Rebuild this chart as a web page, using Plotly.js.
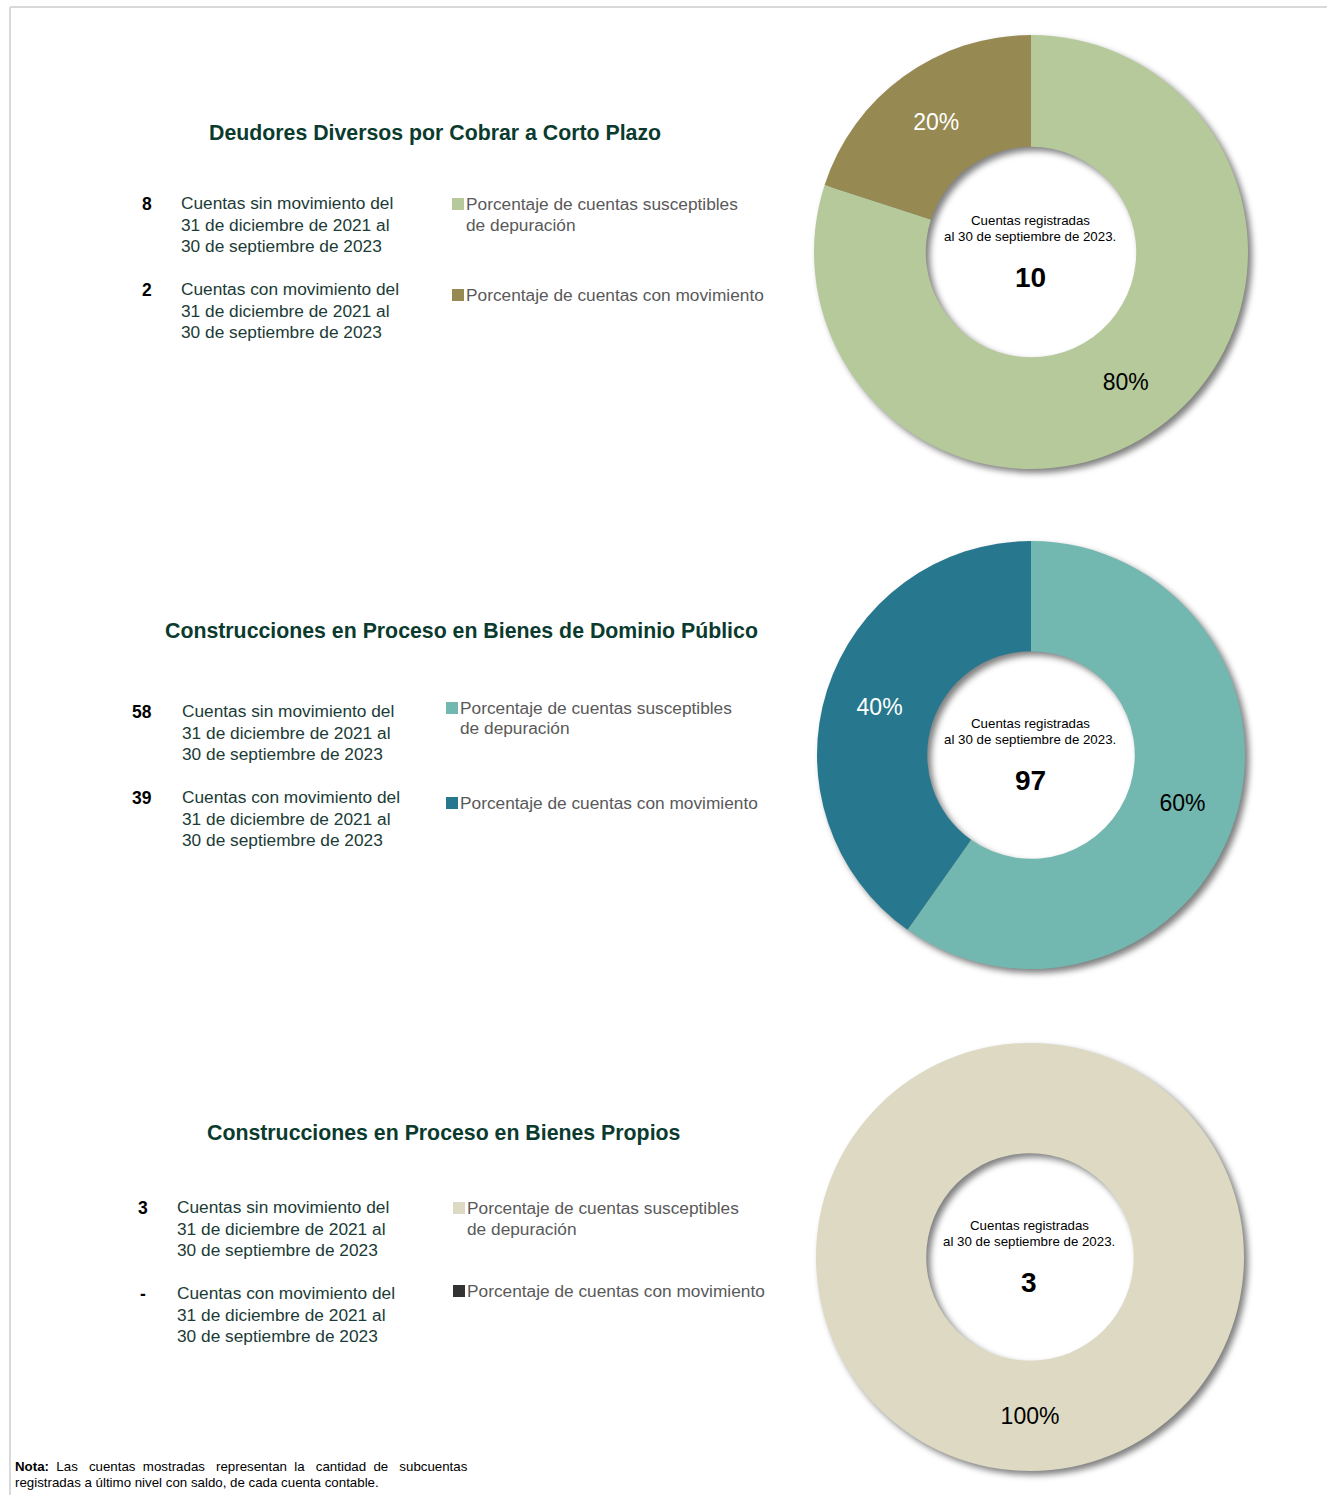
<!DOCTYPE html>
<html>
<head>
<meta charset="utf-8">
<script src="https://cdn.plot.ly/plotly-3.0.1.min.js"></script>
<style>
  html, body { margin: 0; padding: 0; background: #ffffff; }
  #chart { width: 1327px; height: 1495px; }
</style>
</head>
<body>
<div id="chart"></div>
<script>
// ---------------- DATA ----------------
const chartTitles = [
  'Deudores Diversos por Cobrar a Corto Plazo',
  'Construcciones en Proceso en Bienes de Dominio Público',
  'Construcciones en Proceso en Bienes Propios'
];
const sinMovimiento = [8, 58, 3];
const conMovimiento = [2, 39, 0];
const sinMovimientoLabel = ['8', '58', '3'];
const conMovimientoLabel = ['2', '39', '-'];
const sliceLabels = ['Porcentaje de cuentas susceptibles de depuración', 'Porcentaje de cuentas con movimiento'];
const legendSinLines = ['Porcentaje de cuentas susceptibles', 'de depuración'];
const legendConLines = ['Porcentaje de cuentas con movimiento'];
const descSinLines = ['Cuentas sin movimiento del', '31 de diciembre de 2021 al', '30 de septiembre de 2023'];
const descConLines = ['Cuentas con movimiento del', '31 de diciembre de 2021 al', '30 de septiembre de 2023'];
const centerLines = ['Cuentas registradas', 'al 30 de septiembre de 2023.'];
const noteLines = [
  '<b>Nota:</b>\u00A0 Las\u00A0\u00A0 cuentas\u00A0 mostradas\u00A0\u00A0 representan\u00A0 la\u00A0\u00A0 cantidad\u00A0 de\u00A0\u00A0 subcuentas',
  'registradas a último nivel con saldo, de cada cuenta contable.'
];
const colorSusceptibles = ['#B5C99A', '#72B7B0', '#DDD9C3'];
const colorMovimiento = ['#968A52', '#27788E', '#333333'];
const textColorSusceptibles = ['#000000', '#000000', '#000000'];
const textColorMovimiento = ['#FFFFFF', '#FFFFFF', '#FFFFFF'];

// ---------------- LAYOUT CONFIG (positions in px) ----------------
const W = 1327, H = 1495;
const X = v => v / W;
const Y = v => 1 - v / H;
const FONT = 'Liberation Sans, Arial, sans-serif';
const panels = [
  {cx: 1031, cy: 252, r: 217, tx: 435, ty: 133, numX: 147, textX: 179, rowY: [203, 289], sqX: 452, legX: 464, legY: [204, 295]},
  {cx: 1031, cy: 755, r: 214, tx: 461, ty: 631, numX: 142, textX: 180, rowY: [711, 797], sqX: 446, legX: 458, legY: [708, 803]},
  {cx: 1030, cy: 1257, r: 214, tx: 443, ty: 1133, numX: 143, textX: 175, rowY: [1207, 1293], sqX: 453, legX: 465, legY: [1208, 1291]}
];
const centerOffsets = [-32, -16, 25];
const HOLE = 0.485;

const shadowTraces = [];
const pieTraces = [];
const annotations = [];
const shapes = [];

function ann(text, x, y, opts) {
  annotations.push(Object.assign({
    text: text, x: X(x), y: Y(y), xref: 'paper', yref: 'paper',
    xanchor: 'left', yanchor: 'middle', showarrow: false,
    font: {family: FONT, size: 17.3, color: '#1B3B36'}
  }, opts || {}));
}

chartTitles.forEach((title, i) => {
  const p = panels[i];
  const total = sinMovimiento[i] + conMovimiento[i];
  const domain = {x: [X(p.cx - p.r), X(p.cx + p.r)], y: [Y(p.cy + p.r), Y(p.cy - p.r)]};

  shadowTraces.push({
    type: 'pie', values: [total], labels: ['sombra' + i], domain: domain, hole: HOLE,
    sort: false, textinfo: 'none', hoverinfo: 'skip', showlegend: false,
    marker: {colors: ['rgba(0,0,0,0.5)'], line: {width: 0}}
  });

  pieTraces.push({
    type: 'pie', values: [sinMovimiento[i], conMovimiento[i]], labels: sliceLabels,
    domain: domain, hole: HOLE, sort: false, direction: 'clockwise', rotation: 0,
    texttemplate: '%{percent:.0%}', textposition: 'inside', insidetextorientation: 'horizontal',
    textfont: {family: FONT, size: 23, color: [textColorSusceptibles[i], textColorMovimiento[i]]},
    marker: {colors: [colorSusceptibles[i], colorMovimiento[i]], line: {width: 0}},
    showlegend: false, hoverinfo: 'label+value+percent'
  });

  // Title
  ann('<b>' + title + '</b>', p.tx, p.ty, {xanchor: 'center', font: {family: FONT, size: 21.3, color: '#0B3A2E'}});

  // Counts and descriptions
  [[sinMovimientoLabel[i], descSinLines], [conMovimientoLabel[i], descConLines]].forEach((row, k) => {
    ann('<b>' + row[0] + '</b>', p.numX, p.rowY[k] + 1, {xanchor: 'center', font: {family: FONT, size: 17.5, color: '#000000'}});
    row[1].forEach((line, j) => ann(line, p.textX, p.rowY[k] + j * 21.5));
  });

  // Legend
  [[legendSinLines, colorSusceptibles[i]], [legendConLines, colorMovimiento[i]]].forEach((item, k) => {
    const yy = p.legY[k];
    shapes.push({type: 'rect', xref: 'paper', yref: 'paper',
      x0: X(p.sqX), x1: X(p.sqX + 12), y0: Y(yy + 6), y1: Y(yy - 6),
      fillcolor: item[1], line: {width: 0}});
    item[0].forEach((line, j) => ann(line, p.legX, yy + j * 20.5, {font: {family: FONT, size: 17.3, color: '#595959'}}));
  });

  // Center labels
  ann(centerLines[0], p.cx - 1, p.cy + centerOffsets[0], {xanchor: 'center', font: {family: FONT, size: 13.3, color: '#000000'}});
  ann(centerLines[1], p.cx - 1, p.cy + centerOffsets[1], {xanchor: 'center', font: {family: FONT, size: 13.3, color: '#000000'}});
  ann('<b>' + total + '</b>', p.cx - 1, p.cy + centerOffsets[2], {xanchor: 'center', font: {family: FONT, size: 28, color: '#000000'}});
});

// Note
noteLines.forEach((line, j) => ann(line, 13, 1466 + j * 16, {font: {family: FONT, size: 13.3, color: '#000000'}}));

// Frame lines
shapes.push({type: 'line', xref: 'paper', yref: 'paper', x0: X(10), x1: 1, y0: Y(7), y1: Y(7), line: {color: '#D9D9D9', width: 2}});
shapes.push({type: 'line', xref: 'paper', yref: 'paper', x0: X(10), x1: X(10), y0: Y(7), y1: 0, line: {color: '#D9D9D9', width: 2}});

const layout = {
  width: W, height: H,
  margin: {l: 0, r: 0, t: 0, b: 0, pad: 0},
  paper_bgcolor: '#FFFFFF', plot_bgcolor: '#FFFFFF',
  showlegend: false,
  annotations: annotations,
  shapes: shapes,
  font: {family: FONT}
};

Plotly.newPlot('chart', shadowTraces.concat(pieTraces), layout, {displayModeBar: false, staticPlot: true}).then(gd => {
  const svg = gd.querySelector('svg.main-svg');
  const NS = 'http://www.w3.org/2000/svg';
  const defs = document.createElementNS(NS, 'defs');
  const filter = document.createElementNS(NS, 'filter');
  filter.setAttribute('id', 'donutShadow');
  filter.setAttribute('x', '-10%'); filter.setAttribute('y', '-10%');
  filter.setAttribute('width', '125%'); filter.setAttribute('height', '125%');
  const off = document.createElementNS(NS, 'feOffset');
  off.setAttribute('dx', '4'); off.setAttribute('dy', '4'); off.setAttribute('result', 'o');
  const blur = document.createElementNS(NS, 'feGaussianBlur');
  blur.setAttribute('in', 'o'); blur.setAttribute('stdDeviation', '3');
  filter.appendChild(off); filter.appendChild(blur);
  defs.appendChild(filter);
  svg.insertBefore(defs, svg.firstChild);
  const traces = gd.querySelectorAll('.pielayer .trace');
  for (let k = 0; k < shadowTraces.length; k++) {
    traces[k].setAttribute('filter', 'url(#donutShadow)');
  }
});
</script>
</body>
</html>
